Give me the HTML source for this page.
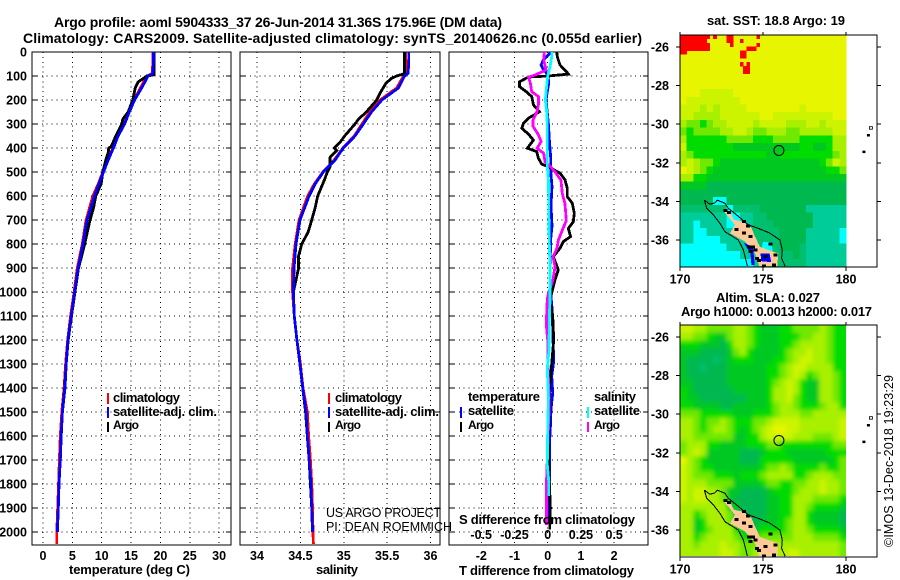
<!DOCTYPE html>
<html>
<head>
<meta charset="utf-8">
<title>Argo profile</title>
<style>
html,body{margin:0;padding:0;background:#fff;}
svg{display:block;font-family:"Liberation Sans",sans-serif;}
text{fill:#000;font-weight:bold;font-size:13px;}
.thin{font-weight:normal;font-size:12.5px;}
.tk{font-size:12.5px;}
.sm{font-size:12px;}
</style>
</head>
<body>
<svg id="chart" xmlns="http://www.w3.org/2000/svg" width="900" height="580" viewBox="0 0 900 580">
<rect x="0" y="0" width="900" height="580" fill="#fff"/>
<defs>
<clipPath id="clipP1"><rect x="32" y="52" width="199" height="493"/></clipPath>
<clipPath id="clipP2"><rect x="240" y="52" width="200" height="493"/></clipPath>
<clipPath id="clipP3"><rect x="449" y="52" width="199" height="493"/></clipPath>
<clipPath id="clipM1"><rect x="680" y="35" width="197" height="232"/></clipPath>
<clipPath id="clipM2"><rect x="680" y="325" width="197" height="232"/></clipPath>
<clipPath id="clipM2d"><rect x="680" y="325" width="166" height="231"/></clipPath>
<filter id="soft" x="-10%" y="-10%" width="120%" height="120%"><feGaussianBlur stdDeviation="2"/></filter>
</defs>

<text x="54" y="27" style="font-size:14px" textLength="448">Argo profile: aoml 5904333_37 26-Jun-2014 31.36S 175.96E (DM data)</text>
<text x="23" y="43" style="font-size:14px" textLength="619">Climatology: CARS2009. Satellite-adjusted climatology: synTS_20140626.nc (0.055d earlier)</text>

<g id="plots"></g>

<text x="69" y="574" textLength="121">temperature (deg C)</text>
<text x="316" y="574" textLength="42">salinity</text>
<text x="459" y="575" textLength="175">T difference from climatology</text>
<text x="459" y="524" textLength="176">S difference from climatology</text>

<g>
<rect x="107" y="393" width="2" height="11" fill="#ff0000"/>
<rect x="107" y="407" width="2" height="11" fill="#0000ff"/>
<rect x="107" y="422" width="2" height="10" fill="#000"/>
<text x="113" y="402" textLength="67">climatology</text>
<text x="113" y="416" textLength="104">satellite-adj. clim.</text>
<text class="sm" x="113" y="429" textLength="26">Argo</text>
</g>
<g>
<rect x="328" y="393" width="2" height="11" fill="#ff0000"/>
<rect x="328" y="407" width="2" height="11" fill="#0000ff"/>
<rect x="328" y="422" width="2" height="10" fill="#000"/>
<text x="335" y="402" textLength="67">climatology</text>
<text x="335" y="416" textLength="104">satellite-adj. clim.</text>
<text class="sm" x="335" y="429" textLength="26">Argo</text>
</g>
<text class="thin" x="326" y="517" textLength="115">US ARGO PROJECT</text>
<text class="thin" x="326" y="531" textLength="126">PI: DEAN ROEMMICH</text>

<g>
<text x="468" y="401" textLength="72">temperature</text>
<rect x="460" y="407" width="2" height="11" fill="#0000ff"/>
<text x="468" y="415" textLength="46">satellite</text>
<rect x="460" y="422" width="2" height="10" fill="#000"/>
<text class="sm" x="468" y="429" textLength="26">Argo</text>
<text x="594" y="401" textLength="42">salinity</text>
<rect x="587" y="407" width="2" height="11" fill="#00ffff"/>
<text x="594" y="415" textLength="46">satellite</text>
<rect x="587" y="422" width="2" height="10" fill="#ff00ff"/>
<text class="sm" x="594" y="429" textLength="26">Argo</text>
</g>

<text x="707" y="25" textLength="138">sat. SST: 18.8 Argo: 19</text>
<text x="716" y="302" textLength="104">Altim. SLA: 0.027</text>
<text x="681" y="316" textLength="191">Argo h1000: 0.0013 h2000: 0.017</text>
<text class="thin" transform="translate(893,547) rotate(-90)" x="0" y="0" textLength="172">©IMOS 13-Dec-2018 19:23:29</text>
</svg>

<script>
// ---------- profile data (depth in dbar) ----------
const depthTicks = [0,100,200,300,400,500,600,700,800,900,1000,1100,1200,1300,1400,1500,1600,1700,1800,1900,2000];
const tempTicks = [0,5,10,15,20,25,30];
const salTicks = [34,34.5,35,35.5,36];
const salTickLabels = ['34','34.5','35','35.5','36'];
const dTTicks = [-2,-1,0,1,2];
const dSTicks = [-0.5,-0.25,0,0.25,0.5];
const dSTickLabels = ['-0.5','-0.25','0','0.25','0.5'];

const climDepth = [0,50,90,100,150,200,250,300,350,400,450,500,550,600,700,800,900,1000,1100,1200,1300,1400,1500,1600,1700,1800,1900,2000,2050];
const tempClim = [18.7,18.7,18.6,17.7,16.6,15.5,14.6,13.8,12.7,11.9,11.0,10.2,9.4,8.5,7.35,6.7,5.85,5.3,4.7,4.2,3.85,3.6,3.2,2.95,2.8,2.65,2.5,2.35,2.33];
const tempSat = [18.8,18.8,18.7,17.9,16.8,15.6,14.7,13.9,12.8,12.0,11.1,10.3,9.5,8.75,7.5,6.8,6.0,5.4,4.8,4.25,3.95,3.75,3.3,3.1,2.95,2.73,2.6,2.45];
const salClim = [35.71,35.72,35.72,35.69,35.61,35.42,35.3,35.21,35.12,34.99,34.89,34.76,34.66,34.585,34.485,34.44,34.41,34.41,34.43,34.46,34.5,34.53,34.58,34.595,34.615,34.63,34.64,34.645,34.65];
const salSat = [35.75,35.75,35.74,35.7,35.63,35.44,35.32,35.225,35.13,34.995,34.9,34.765,34.67,34.6,34.496,34.45,34.427,34.42,34.43,34.46,34.495,34.527,34.565,34.58,34.6,34.62,34.63,34.64];

const argoTDepth = [0,50,90,95,100,115,125,150,200,250,280,300,350,395,400,420,450,500,550,600,650,700,800,850,900,1000,1100,1200,1300,1400,1500,1600,1700,1800,1900,1990];
const argoT = [18.9,18.9,18.9,18.9,17.7,16.8,16.2,15.7,15.3,14.5,13.6,13.4,12.4,11.6,11.2,11.1,10.7,10.2,9.9,9.0,8.6,8.0,7.1,6.6,6.05,5.45,4.85,4.3,3.95,3.7,3.3,3.1,2.95,2.73,2.6,2.45];

const argoSDepth = [0,90,100,110,130,170,200,250,280,300,350,375,400,410,440,480,500,530,600,650,700,750,800,850,900,950,1000,1100,1200,1300,1400,1500,1600,1700,1800,1900,1990];
const argoS = [35.7,35.7,35.61,35.55,35.487,35.42,35.38,35.26,35.17,35.13,35.01,34.96,34.89,34.92,34.84,34.84,34.81,34.78,34.7,34.67,34.63,34.59,34.515,34.48,34.48,34.45,34.42,34.43,34.46,34.495,34.527,34.56,34.58,34.6,34.615,34.63,34.64];

const dTArgoDepth = [0,20,54,82,92,100,104,124,144,165,186,220,249,276,297,318,342,367,401,415,443,467,478,505,533,568,603,630,672,707,735,769,790,818,853,908,950,1005,1030,1100,1200,1300,1400,1500,1600,1700,1800,1900,1990];
const dTArgo = [0.27,0.29,0.37,0.57,0.62,0.02,-0.58,-0.85,-0.85,-0.65,-0.48,-0.43,-0.25,-0.58,-0.73,-0.78,-0.58,-0.43,-0.61,-0.33,-0.28,-0.18,0.02,0.37,0.52,0.59,0.59,0.74,0.8,0.77,0.62,0.69,0.47,0.37,0.17,0.32,0.22,0.12,0.07,0.15,0.18,0.12,0.05,0.05,0.02,0.03,0.05,0.08,0.06];

const dTSatDepth = [0,33,54,68,89,100,130,200,300,370,440,500,560,640,725,780,895,1005,1080,1150,1290,1350,1420,1490,1560,1640,1780,1960];
const dTSat = [0.1,-0.13,-0.2,-0.15,-0.03,0.01,0.03,-0.05,0.02,0.05,0.09,0.09,0.13,0.1,0.13,0.09,0.07,0.09,0.14,0.15,0.18,0.12,0.15,0.1,0.08,0.05,0.05,0.03];

const dSArgoDepth = [0,33,75,96,105,130,165,186,220,248,283,310,345,373,401,422,457,478,499,534,590,632,702,743,785,818,853,895,950,1005,1030,1060,1100,1150,1200,1290,1420,1500,1780,1970];
const dSArgo = [-0.025,-0.03,-0.012,-0.095,-0.145,-0.13,-0.12,-0.07,-0.07,-0.08,-0.11,-0.11,-0.07,-0.05,-0.08,-0.03,-0.02,0.02,0.055,0.1,0.11,0.13,0.14,0.11,0.08,0.07,0.04,0.055,0.04,0.005,-0.003,-0.005,-0.008,-0.008,0,0,0.01,0.01,-0.008,-0.008];

const dSSatDepth = [0,20,61,100,144,200,245,300,367,478,533,617,700,811,922,1033,1090,1240,1320,1440,1580,1720,1790,1850];
const dSSat = [0.03,0.03,0.018,0,-0.008,-0.018,-0.008,-0.003,-0.003,-0.003,0.005,0.008,0.008,0.013,0.018,0.018,0.013,0.01,-0.003,0.005,0,-0.003,0.008,0.008];

// ---------- map data ----------
const mapLonTicks = [170,175,180];
const mapLatTicks = [26,28,30,32,34,36];
const profileLon = 175.96;
const profileLat = 31.36;
const sstCells = [
"9999999999999999999999999","9999999999999999999999999","9999999999999999999999999","9999999999999999999999999",
"9999999999999999999999999","9999999999999999999999999","9999999999999999999999999",
"9998888899999999999999999","9888888889999999999999999","8887878888999999998999999",
"8877778888889988888888899","7665677888878888777887888","6566667788766777667777788",
"7555555666655566665555577","8555555544444444445544577","7655555555555445555555567",
"7876654444444444444445687","9876544444444444444444556","7755444444444444444444444",
"4444333333333333333333333","3333333333333333333333333","3333300333333333333333333",
"2222222022223333333111111","1111111001122333333311111","1101111001122233333311111",
"1100111111222223333111110","1100001111122223333111110","0000000111112223332111111",
"0000000001112222232111111","0000000000012222222111111"];
const sstHotCells = [
"11111111101000110000000100000000000000000000000000",
"11111111000000110010000000000000000000000000000000",
"11111111100000010000000100000000000000000000000000",
"11111111100000000000111000000000000000000000000000",
"11000000000000000011000000000000000000000000000000",
"00000000000000000011000000000000000000000000000000",
"00000000000000000000000000000000000000000000000000",
"00000000000000000010100000000000000000000000000000",
"00000000000000000001100000000000000000000000000000",
"00000000000000000001100000000000000000000000000000"];
const slaCells = [
"8877666677654445566667655","7766544677654445556677655","5554443577654445567777655",
"4443333467544445677877655","4333323455544455678877655","4332333444444556788777755",
"4333333444444556787567765","4433333444444567875447765","5433333344444577875447765",
"5443333333444577865447765","5544443344444567765556775","6665555544455567776677777",
"7765667655566788887777778","7765677654567899887777778","7766666644557888877766678",
"6777554444555665555555566","6787444443334555444444555","9765444443335555544444456",
"8765544444445667655556556","8766655545556777755677766","8777666644445665566778776",
"8788776443333455567778776","8788776433333445577766665","7777777443333445577655554",
"7756777633333445577544443","7745777643334445677544443","7745677754445555677655554",
"7756777765556666677766665","7767778776666777777777776","7777778876677777887777776"];
const levelColors = ['#00ffff','#00cc99','#00c070','#00b850','#00c820','#00dc00','#70e800','#a8f000','#ccf400','#e8f500'];
const coastLon = [171.47,171.81,172.11,172.25,172.71,172.91,173.41,174.12,174.72,175.42,176.02,176.16,176.12,176.33];
const coastLat = [33.94,34.15,34.07,33.94,34.10,34.36,34.70,35.22,35.40,35.65,36.0,36.52,36.95,37.35];
const coastLon2 = [171.47,171.61,172.01,172.41,172.71,173.51,173.82,174.06];
const coastLat2 = [33.94,34.36,34.7,35.14,35.57,36.0,36.52,37.35];
const landLon = [172.61,173.01,173.25,173.82,174.32,174.52,174.82,175.32,175.92,175.86,174.78,174.52,173.92,173.01,173.31,172.91];
const landLat = [34.48,34.53,34.96,35.05,35.4,35.83,36.35,36.52,36.69,37.35,37.35,36.69,36.09,35.65,35.22,34.79];
const shallowLon = [175.0,175.5,175.6,175.2,174.9];
const shallowLat = [36.1,36.1,36.7,36.7,36.5];
const bayLon = [173.85,174.4,174.5,174.3,174.25];
const bayLat = [36.15,36.35,37.3,37.3,36.7];
const bayLon2 = [174.85,175.4,175.5,174.9];
const bayLat2 = [36.7,36.7,37.15,37.1];
const speckLon = [173.37,174.06,174.22,174.38,174.12,174.22,174.62,175.12,175.42,175.72,175.62,172.91,172.71,174.72,173.82,173.82,174.52,175.02];
const speckLat = [35.45,35.27,35.83,36.35,36.35,36.6,36.95,36.86,36.21,36.78,37.3,34.57,34.48,37.07,35.05,35.65,36.52,37.35];
const isleLon = [181.08,181.35,181.5];
const isleLat = [31.42,30.56,30.18];

// ---------- axis functions ----------
const yDepth = d => 52 + d * 0.24;
const xTemp = v => 43 + v * 5.87;
const xSal = v => 257 + (v - 34) * 86.75;
const xDT = v => 547.7 + v * 33.2;
const xDS = v => 547.7 + v * 133;
const xLon = v => 680 + (v - 170) * 16.6;
const yLat1 = v => 47 + (v - 26) * 19.3;
const yLat2 = v => 337 + (v - 26) * 19.3;

const NS = 'http://www.w3.org/2000/svg';
const plots = document.getElementById('plots');
function mk(tag, attrs, parent, txt) {
  const el = document.createElementNS(NS, tag);
  for (const k in attrs) el.setAttribute(k, attrs[k]);
  if (txt !== undefined) el.textContent = txt;
  parent.appendChild(el);
  return el;
}
function pts(xs, ys, fx, fy) {
  const n = Math.min(xs.length, ys.length);
  let s = '';
  for (let i = 0; i < n; i++) s += fx(xs[i]).toFixed(1) + ',' + fy(ys[i]).toFixed(1) + ' ';
  return s;
}

// ---------- profile panels ----------
function panel(x0, x1, clipId, name, gridVals, fx) {
  const g = mk('g', {}, plots);
  
  
  gridVals.forEach(v => {
    const l = mk('line', {x1: fx(v), x2: fx(v), y1: 52, y2: 545, stroke: '#000', 'stroke-width': 1, 'stroke-dasharray': '1 3.9', 'shape-rendering': 'crispEdges'}, g);
    
    
  });
  depthTicks.forEach(d => {
    const l = mk('line', {x1: x0, x2: x1, y1: yDepth(d), y2: yDepth(d), stroke: '#000', 'stroke-width': 1, 'stroke-dasharray': '1 3.9', 'shape-rendering': 'crispEdges'}, g);
    
    
    const t1 = mk('line', {x1: x0, x2: x0 + 5, y1: yDepth(d), y2: yDepth(d), stroke: '#000', 'stroke-width': 1, 'shape-rendering': 'crispEdges'}, g);
    
    
    const t2 = mk('line', {x1: x1 - 5, x2: x1, y1: yDepth(d), y2: yDepth(d), stroke: '#000', 'stroke-width': 1, 'shape-rendering': 'crispEdges'}, g);
    
    
  });
  const b = mk('rect', {x: x0, y: 52, width: x1 - x0, height: 493, fill: 'none', stroke: '#000', 'stroke-width': 1, 'shape-rendering': 'crispEdges'}, g);
  
  
  const s = mk('g', {'clip-path': 'url(#' + clipId + ')'}, g);
  
  
  return s;
}
function line(parent, xs, ys, fx, color, name) {
  const l = mk('polyline', {points: pts(xs, ys, fx, yDepth), fill: 'none', stroke: color, 'stroke-width': 2.8, 'shape-rendering': 'crispEdges', 'stroke-linejoin': 'miter'}, parent);
  
  
}
const p1 = panel(32, 231, 'clipP1', 'temperature-panel', tempTicks, xTemp);
line(p1, tempClim, climDepth, xTemp, '#ff0000', 'temperature-climatology-line');
line(p1, argoT, argoTDepth, xTemp, '#000', 'temperature-argo-line');
line(p1, tempSat, climDepth, xTemp, '#0000ff', 'temperature-satellite-line');

const p2 = panel(240, 440, 'clipP2', 'salinity-panel', salTicks, xSal);
line(p2, salClim, climDepth, xSal, '#ff0000', 'salinity-climatology-line');
line(p2, argoS, argoSDepth, xSal, '#000', 'salinity-argo-line');
line(p2, salSat, climDepth, xSal, '#0000ff', 'salinity-satellite-line');

const p3 = panel(449, 648, 'clipP3', 'difference-panel', dTTicks, xDT);
line(p3, dTSat, dTSatDepth, xDT, '#0000ff', 'temperature-satellite-difference-line');
line(p3, dTArgo, dTArgoDepth, xDT, '#000', 'temperature-argo-difference-line');
line(p3, dSArgo, dSArgoDepth, xDS, '#ff00ff', 'salinity-argo-difference-line');
line(p3, dSSat, dSSatDepth, xDS, '#00ffff', 'salinity-satellite-difference-line');

// ---------- tick labels ----------
depthTicks.forEach(d => {
  const t = mk('text', {class: 'tk', x: 27, y: yDepth(d) + 4.5, 'text-anchor': 'end'}, plots, String(d));
  
  
});
tempTicks.forEach(v => {
  const t = mk('text', {class: 'tk', x: xTemp(v), y: 560, 'text-anchor': 'middle'}, plots, String(v));
  
  
});
salTicks.forEach((v, i) => {
  const t = mk('text', {class: 'tk', x: xSal(v), y: 560, 'text-anchor': 'middle'}, plots, salTickLabels[i]);
  
  
});
dTTicks.forEach(v => {
  const t = mk('text', {class: 'tk', x: xDT(v), y: 560, 'text-anchor': 'middle'}, plots, String(v));
  
  
});
dSTicks.forEach((v, i) => {
  const t = mk('text', {class: 'tk', x: xDS(v), y: 539, 'text-anchor': 'middle'}, plots, dSTickLabels[i]);
  
  
});

// ---------- maps ----------
const CELL = 0.4, TOP_LAT = 25.38;
function drawMap(cells, yLat, topY, clipId, name, isSst) {
  const g = mk('g', {}, plots);
  
  
  const clip = mk('g', {'clip-path': 'url(#' + clipId + ')'}, g);
  
  
  const holder = mk('g', isSst ? {} : {'clip-path': 'url(#clipM2d)'}, clip);
  
  
  const cg = mk('g', isSst ? {'shape-rendering': 'crispEdges'} : {filter: 'url(#soft)'}, holder);
  
  
  cells.forEach((row, r) => {
    for (let c = 0; c < row.length; c++) {
      let x = xLon(170 + c * CELL), w = xLon(170 + (c + 1) * CELL) - x + 0.6;
      let y = yLat(TOP_LAT + r * CELL), h = yLat(TOP_LAT + (r + 1) * CELL) - y + 0.6;
      if (!isSst) {
        if (c === 0) { x -= 20; w += 20; }
        if (c === row.length - 1) w += 20;
        if (r === 0) { y -= 20; h += 20; }
        if (r === cells.length - 1) h += 20;
      }
      const cell = mk('rect', {x: x, y: y, width: w, height: h, fill: levelColors[+row[c]]}, cg);
      
      
    }
  });
  if (isSst) {
    sstHotCells.forEach((row, r) => {
      for (let c = 0; c < row.length; c++) {
        if (row[c] !== '1') continue;
        const x = xLon(170 + c * 0.2), y = yLat(TOP_LAT + r * 0.2);
        const hot = mk('rect', {x: x, y: y, width: 3.6, height: 4.2, fill: '#ff0000', 'shape-rendering': 'crispEdges'}, clip);
        
        
      }
    });
    const sh = mk('polygon', {points: pts(shallowLon, shallowLat, xLon, yLat), fill: '#00ffff', 'shape-rendering': 'crispEdges'}, clip);
    
    
  }
  const land = mk('polygon', {points: pts(landLon, landLat, xLon, yLat), fill: '#ffc896', 'shape-rendering': 'crispEdges'}, clip);
  
  
  if (isSst) {
    const b1 = mk('polygon', {points: pts(bayLon, bayLat, xLon, yLat), fill: '#0000ff', 'shape-rendering': 'crispEdges'}, clip);
    
    
    const b2 = mk('polygon', {points: pts(bayLon2, bayLat2, xLon, yLat), fill: '#0000ff', 'shape-rendering': 'crispEdges'}, clip);
    
    
  }
  speckLon.forEach((lon, i) => {
    const s = mk('rect', {x: xLon(lon) - 1.5, y: yLat(speckLat[i]) - 1.5, width: 4, height: 3, fill: '#000', 'shape-rendering': 'crispEdges'}, clip);
    
    
  });
  const c1 = mk('polyline', {points: pts(coastLon, coastLat, xLon, yLat), fill: 'none', stroke: '#000', 'stroke-width': 1, 'shape-rendering': 'crispEdges'}, clip);
  
  
  const c2 = mk('polyline', {points: pts(coastLon2, coastLat2, xLon, yLat), fill: 'none', stroke: '#000', 'stroke-width': 1, 'shape-rendering': 'crispEdges'}, clip);
  
  
  isleLon.forEach((lon, i) => {
    const isle = mk('rect', {x: xLon(lon) - 1.5, y: yLat(isleLat[i]) - 1, width: 3, height: 2.5, fill: i === 2 ? 'none' : '#000', stroke: '#000', 'stroke-width': i === 2 ? 0.8 : 0}, clip);
    
    
  });
  const m = mk('circle', {cx: xLon(profileLon), cy: yLat(profileLat), r: 5, fill: 'none', stroke: '#000', 'stroke-width': 1}, g);
  
  
  const fr = mk('rect', {x: 680, y: topY, width: 197, height: 232, fill: 'none', stroke: '#000', 'stroke-width': 1, 'shape-rendering': 'crispEdges'}, g);
  
  
  mapLonTicks.forEach(v => {
    const a = mk('line', {x1: xLon(v), x2: xLon(v), y1: topY - 3, y2: topY, stroke: '#000', 'shape-rendering': 'crispEdges'}, g);
    
    
    const b = mk('line', {x1: xLon(v), x2: xLon(v), y1: topY + 232, y2: topY + 236, stroke: '#000', 'shape-rendering': 'crispEdges'}, g);
    
    
    const t = mk('text', {class: 'tk', x: xLon(v), y: topY + 248.5, 'text-anchor': 'middle'}, g, String(v));
    
    
  });
  mapLatTicks.forEach(v => {
    const a = mk('line', {x1: 676, x2: 680, y1: yLat(v), y2: yLat(v), stroke: '#000', 'shape-rendering': 'crispEdges'}, g);
    
    
    const b = mk('line', {x1: 877, x2: 881, y1: yLat(v), y2: yLat(v), stroke: '#000', 'shape-rendering': 'crispEdges'}, g);
    
    
    const t = mk('text', {class: 'tk', x: 669, y: yLat(v) + 4.5, 'text-anchor': 'end'}, g, '-' + v);
    
    
  });
}
drawMap(sstCells, yLat1, 35, 'clipM1', 'sst-map', true);
drawMap(slaCells, yLat2, 325, 'clipM2', 'altimetry-map', false);
</script>
</body>
</html>
